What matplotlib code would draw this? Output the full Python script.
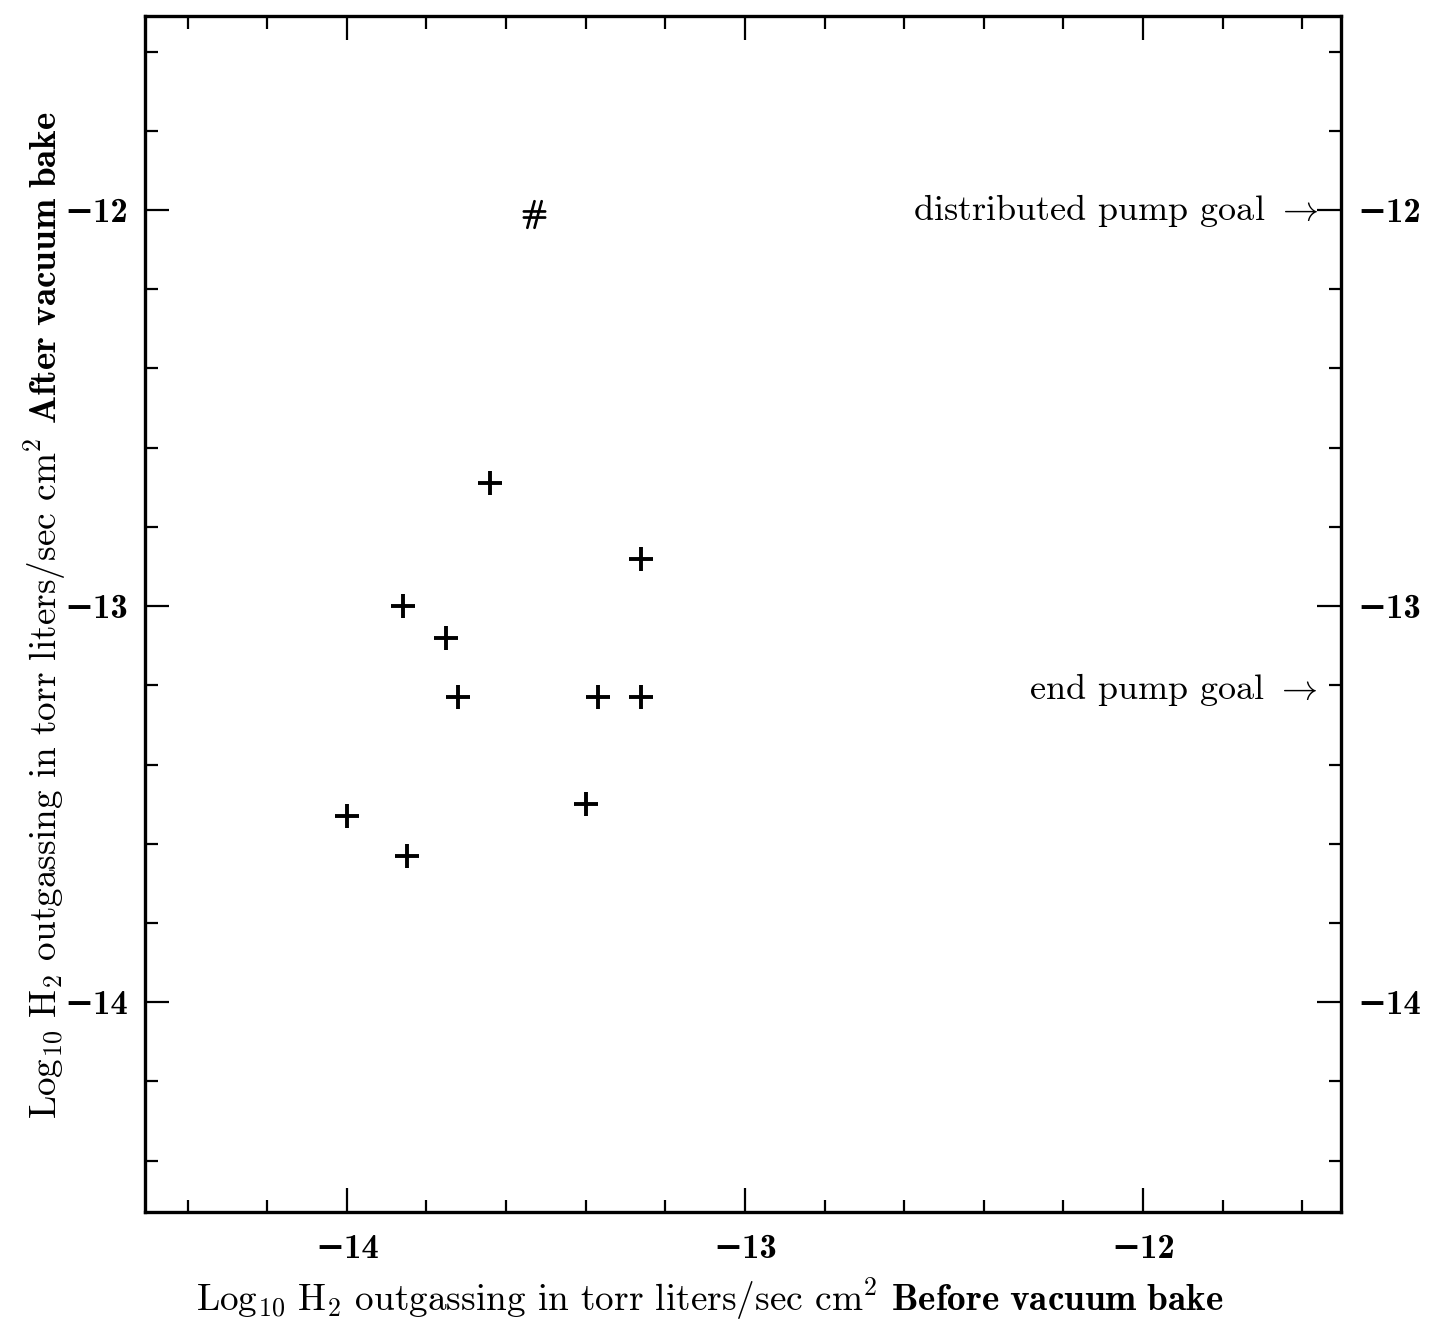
import matplotlib
matplotlib.use("Agg")
import matplotlib.pyplot as plt
from matplotlib.ticker import FixedLocator, FixedFormatter, MultipleLocator

plt.rcParams.update({
    "font.family": "cmr10",
    "mathtext.fontset": "cm",
    "axes.formatter.use_mathtext": True,
    "axes.unicode_minus": False,
})

# before bake (x) vs after bake (y), log10 torr l/s cm^2
before = [-13.64, -13.26, -13.86, -13.75, -13.72, -13.37, -13.26, -13.40, -14.00, -13.85]
after = [-12.69, -12.88, -13.00, -13.08, -13.23, -13.23, -13.23, -13.50, -13.53, -13.63]

# the one point drawn with a '#'
hash_before = [-13.53]
hash_after = [-12.01]

goal_names = ["distributed pump goal", "end pump goal"]
goal_values = [-12.0, -13.21]

major_ticks = [-14, -13, -12]
tick_labels = ["\u221214", "\u221213", "\u221212"]

fig = plt.figure(figsize=(14.48, 13.37), dpi=100)
ax = fig.add_axes([0.1001, 0.0935, 0.826, 0.8945])

ax.plot(before, after, linestyle="none", marker="+", markersize=17,
        markeredgewidth=2.8, color="black")
ax.plot(hash_before, hash_after, linestyle="none", marker=r"$\#$",
        markersize=20, color="black")

ax.set_xlim(-14.507, -11.503)
ax.set_ylim(-14.53, -11.51)

for axis in (ax.xaxis, ax.yaxis):
    axis.set_major_locator(FixedLocator(major_ticks))
    axis.set_major_formatter(FixedFormatter(tick_labels))
    axis.set_minor_locator(MultipleLocator(0.2))

ax.tick_params(which="both", direction="in", top=True, right=True,
               labelright=True, width=1.6, color="black")
ax.tick_params(which="major", length=17, labelsize=25)
ax.tick_params(which="minor", length=9)
ax.tick_params(axis="x", which="major", pad=16)
ax.tick_params(axis="y", which="major", pad=12)

# bold tick numbers (the minus sign falls back to DejaVu Serif)
for lbl in ax.get_xticklabels() + ax.get_yticklabels() + ax.yaxis.get_ticklabels(which="major"):
    lbl.set_fontfamily(["cmb10", "DejaVu Serif"])
    lbl.set_fontweight("bold")
for t in ax.yaxis.get_major_ticks():
    t.label2.set_fontfamily(["cmb10", "DejaVu Serif"])
    t.label2.set_fontweight("bold")

for sp in ax.spines.values():
    sp.set_linewidth(2.4)

for name, val in zip(goal_names, goal_values):
    ax.text(-11.56, val, name + r" $\rightarrow$", ha="right", va="center",
            fontsize=26)

fig.text(0.49, 0.028,
         r"$\mathrm{Log}_{10}\ \mathrm{H}_2$ outgassing in torr liters/sec "
         r"cm$^2$ $\mathbf{Before\ vacuum\ bake}$",
         ha="center", va="center", fontsize=26.8)
fig.text(0.031, 0.54,
         r"$\mathrm{Log}_{10}\ \mathrm{H}_2$ outgassing in torr liters/sec "
         r"cm$^2$ $\mathbf{After\ vacuum\ bake}$",
         ha="center", va="center", rotation=90, fontsize=26.8)

fig.savefig("out.png", dpi=100, facecolor="white")
